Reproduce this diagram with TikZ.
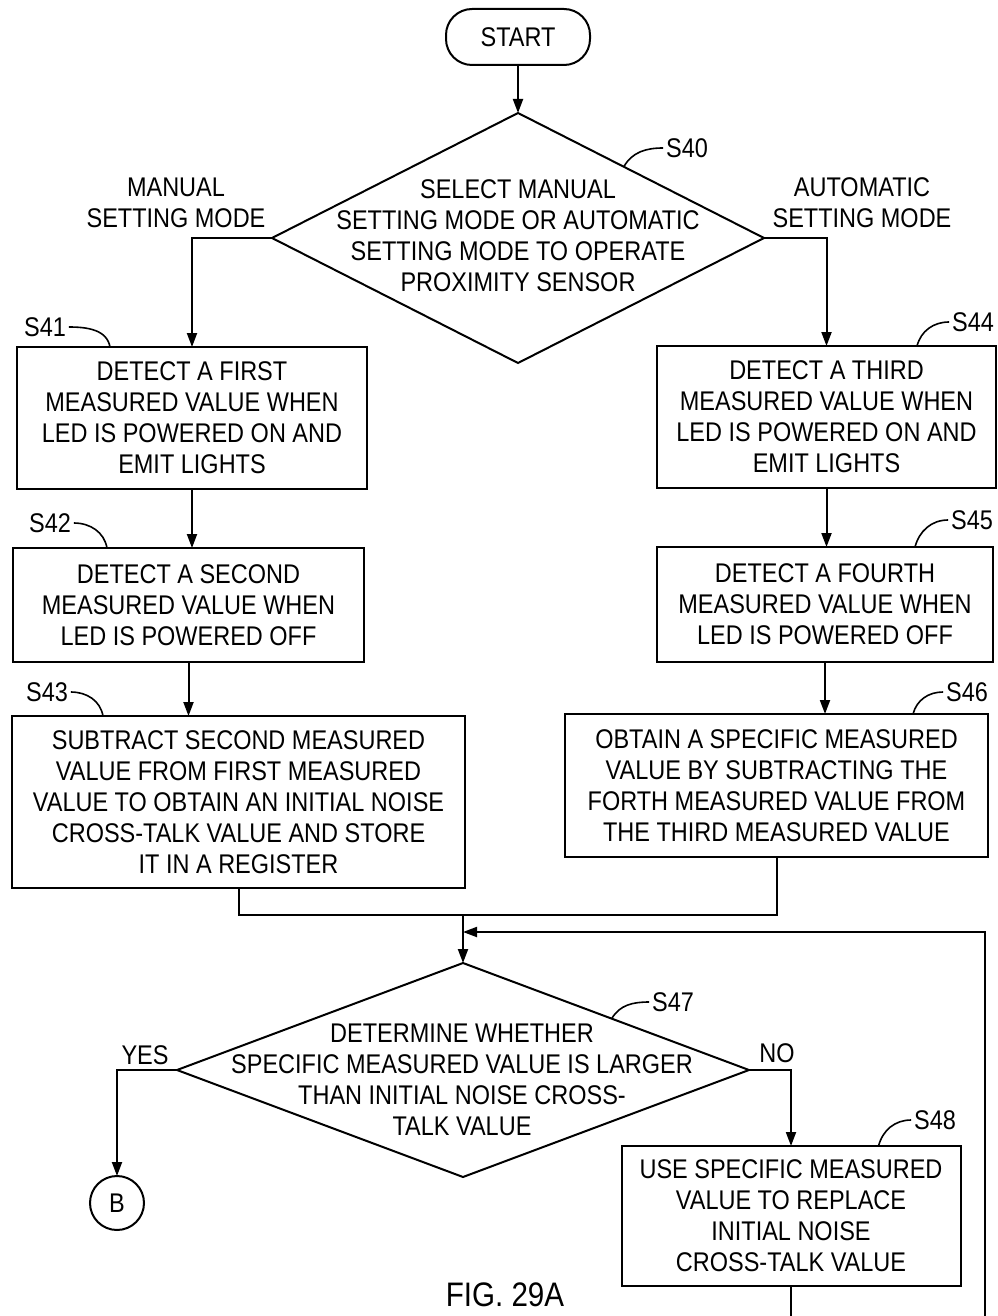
\documentclass[tikz,border=0pt]{standalone}
\usepackage{fontspec}
\setmainfont{Liberation Sans}[FakeStretch=0.87]
\usetikzlibrary{arrows.meta, shapes.geometric, calc}

\begin{document}
\begin{tikzpicture}[x=0.5pt, y=-0.5pt, line width=1pt,
  font=\fontsize{13.5}{15.5}\selectfont,
  stepbox/.style={draw, rectangle, align=center, inner sep=0pt, outer sep=0pt},
  decision/.style={draw, diamond, inner sep=0pt, outer sep=0pt},
  flow/.style={-{Triangle[length=7pt,width=5pt]}},
  leader/.style={line width=0.8pt},
  steplabel/.style={inner sep=1pt}]
  \useasboundingbox (0,0) rectangle (997,1316);
  % coordinates are in pixels of the sheet, y grows downwards
  \node[draw, rounded corners=13pt, minimum width=72pt, minimum height=28pt] (start) at (518,37) {START};
  % S40 -- choice of mode
  \node[decision, minimum width=246pt, minimum height=125pt] (s40) at (518,238) {};
  \node[align=center] (s40txt) at (518,236) {SELECT MANUAL\\SETTING MODE OR AUTOMATIC\\SETTING MODE TO OPERATE\\PROXIMITY SENSOR};
  \node[align=center] (manual) at (176,203) {MANUAL\\SETTING MODE};
  \node[align=center] (auto) at (862,203) {AUTOMATIC\\SETTING MODE};
  % manual setting mode
  \node[stepbox, minimum width=175pt, minimum height=71pt] (s41) at (192,418)
    {DETECT A FIRST\\MEASURED VALUE WHEN\\LED IS POWERED ON AND\\EMIT LIGHTS};
  \node[stepbox, minimum width=175.5pt, minimum height=57pt] (s42) at (188.5,605)
    {DETECT A SECOND\\MEASURED VALUE WHEN\\LED IS POWERED OFF};
  \node[stepbox, minimum width=226.5pt, minimum height=86pt] (s43) at (238.5,802)
    {SUBTRACT SECOND MEASURED\\VALUE FROM FIRST MEASURED\\VALUE TO OBTAIN AN INITIAL NOISE\\CROSS-TALK VALUE AND STORE\\IT IN A REGISTER};
  % automatic setting mode
  \node[stepbox, minimum width=169.5pt, minimum height=71pt] (s44) at (826.5,417)
    {DETECT A THIRD\\MEASURED VALUE WHEN\\LED IS POWERED ON AND\\EMIT LIGHTS};
  \node[stepbox, minimum width=168pt, minimum height=57.5pt] (s45) at (825,604.5)
    {DETECT A FOURTH\\MEASURED VALUE WHEN\\LED IS POWERED OFF};
  \node[stepbox, minimum width=211.5pt, minimum height=71.5pt] (s46) at (776.5,785.5)
    {OBTAIN A SPECIFIC MEASURED\\VALUE BY SUBTRACTING THE\\FORTH MEASURED VALUE FROM\\THE THIRD MEASURED VALUE};
  % S47 -- comparison
  \node[decision, minimum width=286pt, minimum height=107pt] (s47) at (463,1070) {};
  \node[align=center] (s47txt) at (462,1080) {DETERMINE WHETHER\\SPECIFIC MEASURED VALUE IS LARGER\\THAN INITIAL NOISE CROSS-\\TALK VALUE};
  \node (yes) at (145,1055) {YES};
  \node (no) at (777,1053) {NO};
  \node[draw, circle, minimum size=27pt, inner sep=0pt, outer sep=0pt] (b) at (117,1203) {B};
  \node[stepbox, minimum width=169.5pt, minimum height=70pt] (s48) at (791,1216)
    {USE SPECIFIC MEASURED\\VALUE TO REPLACE\\INITIAL NOISE\\CROSS-TALK VALUE};
  \node[font=\fontsize{17}{17}\selectfont, inner sep=0pt] (fig) at (505,1295) {FIG. 29A};

  % step numbers
  \node[steplabel] (s40lbl) at (687,148) {S40};
  \node[steplabel] (s41lbl) at (45,327) {S41};
  \node[steplabel] (s42lbl) at (50,523) {S42};
  \node[steplabel] (s43lbl) at (47,692) {S43};
  \node[steplabel] (s44lbl) at (973,322) {S44};
  \node[steplabel] (s45lbl) at (972,520) {S45};
  \node[steplabel] (s46lbl) at (967,692) {S46};
  \node[steplabel] (s47lbl) at (673,1002) {S47};
  \node[steplabel] (s48lbl) at (935,1120) {S48};
  \draw[leader] (s40lbl.west) to[out=180, in=60] ($(s40.north)!0.43!(s40.east)$);
  \draw[leader] (s41lbl.east) to[out=0, in=100] ([xshift=46.5pt]s41.north west);
  \draw[leader] (s42lbl.east) to[out=0, in=100] ([xshift=47pt]s42.north west);
  \draw[leader] (s43lbl.east) to[out=0, in=100] ([xshift=45.5pt]s43.north west);
  \draw[leader] (s44lbl.west) to[out=180, in=75] ([xshift=-39.5pt]s44.north east);
  \draw[leader] (s45lbl.west) to[out=180, in=75] ([xshift=-39pt]s45.north east);
  \draw[leader] (s46lbl.west) to[out=180, in=75] ([xshift=-37.5pt]s46.north east);
  \draw[leader] (s47lbl.west) to[out=180, in=60] ($(s47.north)!0.52!(s47.east)$);
  \draw[leader] (s48lbl.west) to[out=180, in=75] ([xshift=-41pt]s48.north east);

  % flow lines
  \coordinate (merge) at (463,915);
  \coordinate (loopin) at (463,932);
  \coordinate (loopcorner) at (985,1316);
  \draw[flow] (start.south) -- (s40.north);
  \draw[flow] (s40.west) -| (s41.north);
  \draw[flow] (s40.east) -| (s44.north);
  \draw[flow] (s41.south) -- (s41.south |- s42.north);
  \draw[flow] (s42.south) -- (s42.south |- s43.north);
  \draw[flow] (s44.south) -- (s44.south |- s45.north);
  \draw[flow] (s45.south) -- (s45.south |- s46.north);
  \draw (s43.south) |- (s46.south |- merge) -- (s46.south);
  \draw[flow] (merge) -- (s47.north);
  \draw[flow] (s47.west) -| (b.north);
  \draw[flow] (s47.east) -| (s48.north);
  \draw (s48.south) -- (s48.south |- loopcorner);
  \draw[flow] (loopcorner) |- (loopin);
\end{tikzpicture}
\end{document}
